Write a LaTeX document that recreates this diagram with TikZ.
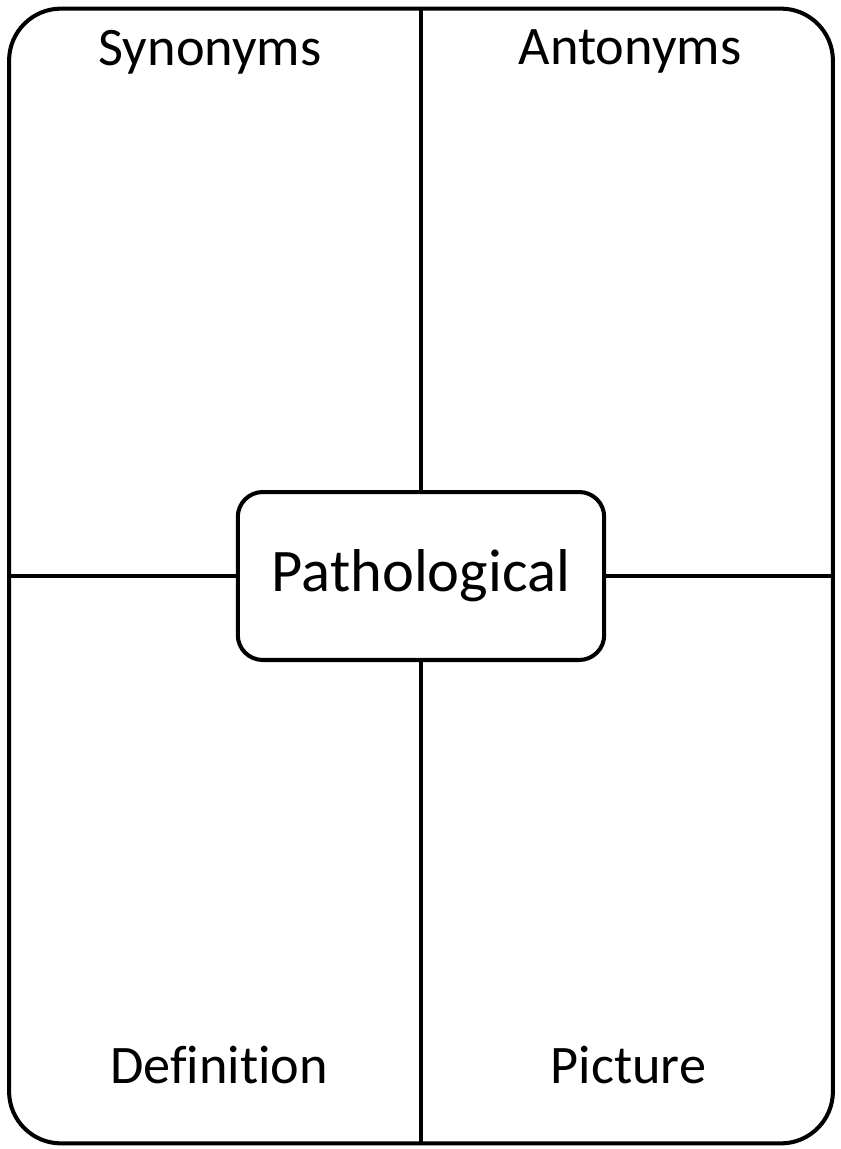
\documentclass[tikz,border=0pt]{standalone}
\usepackage{fontspec}
\setmainfont{Carlito}[Ligatures=NoCommon]
\usepackage{tikz}
\usetikzlibrary{positioning}

\begin{document}
\begin{tikzpicture}[x=0.02cm,y=-0.02cm,
    rahmen/.style={draw, line width=2.3pt, rounded corners=1.04cm},
    titel/.style={anchor=base, font=\fontsize{30.9}{36}\selectfont},
  ]
            % Platzhalter
            \useasboundingbox (0,0) rectangle (840,1149);

            \node[rahmen, minimum width=16.48cm, minimum height=22.7cm] (frame) at (421,576) {};
            \node[rahmen, rounded corners=0.5cm, minimum width=7.33cm, minimum height=3.36cm,
                  font=\fontsize{34.4}{40}\selectfont] (word) at (421,576) {Pathological};

            % Linien zwischen Wort und Rahmen
            \draw[line width=2.3pt] (frame.north) -- (word.north)
                                    (word.south) -- (frame.south)
                                    (frame.west) -- (word.west)
                                    (word.east) -- (frame.east);

            \node[titel] (syn) at (210,66) {Synonyms};
            \node[titel] (ant) at (630,65) {Antonyms};
            \node[titel] (def) at (219,1083) {Definition};
            \node[titel] (pic) at (628.5,1083) {Picture};
        \end{tikzpicture}
\end{document}
